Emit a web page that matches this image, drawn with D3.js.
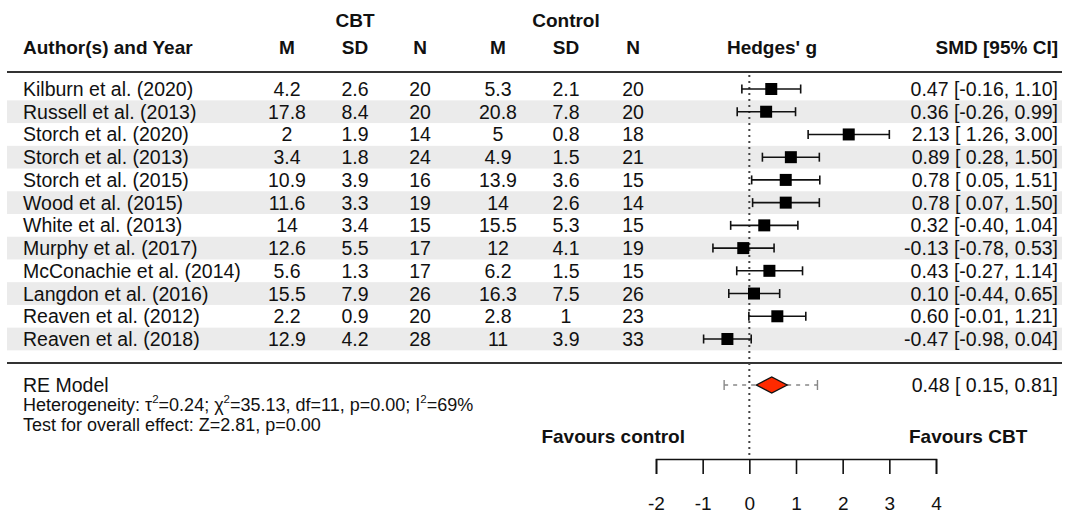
<!DOCTYPE html>
<html>
<head>
<meta charset="utf-8">
<title>forest</title>
<style>
  body { margin: 0; background: #fff; }
  svg text { font-family: "Liberation Sans", Arial, sans-serif; fill: #111; }
  .hdr { font-weight: bold; font-size: 19px; }
  .row { font-size: 19.5px; }
  .small { font-size: 18px; }
</style>
<script src="https://d3js.org/d3.v7.min.js"></script>
</head>
<body>
<svg id="chart" width="1066" height="514"></svg>
<script>
const studies = ["Kilburn et al. (2020)", "Russell et al. (2013)", "Storch et al. (2020)", "Storch et al. (2013)",
  "Storch et al. (2015)", "Wood et al. (2015)", "White et al. (2013)", "Murphy et al. (2017)",
  "McConachie et al. (2014)", "Langdon et al. (2016)", "Reaven et al. (2012)", "Reaven et al. (2018)"];
const cbtM = [4.2, 17.8, 2, 3.4, 10.9, 11.6, 14, 12.6, 5.6, 15.5, 2.2, 12.9];
const cbtSD = [2.6, 8.4, 1.9, 1.8, 3.9, 3.3, 3.4, 5.5, 1.3, 7.9, 0.9, 4.2];
const cbtN = [20, 20, 14, 24, 16, 19, 15, 17, 17, 26, 20, 28];
const ctlM = [5.3, 20.8, 5, 4.9, 13.9, 14, 15.5, 12, 6.2, 16.3, 2.8, 11];
const ctlSD = [2.1, 7.8, 0.8, 1.5, 3.6, 2.6, 5.3, 4.1, 1.5, 7.5, 1, 3.9];
const ctlN = [20, 20, 18, 21, 15, 14, 15, 19, 15, 26, 23, 33];
const smd = [0.47, 0.36, 2.13, 0.89, 0.78, 0.78, 0.32, -0.13, 0.43, 0.10, 0.60, -0.47];
const ciLo = [-0.16, -0.26, 1.26, 0.28, 0.05, 0.07, -0.40, -0.78, -0.27, -0.44, -0.01, -0.98];
const ciHi = [1.10, 0.99, 3.00, 1.50, 1.51, 1.50, 1.04, 0.53, 1.14, 0.65, 1.21, 0.04];

// random effects summary and prediction interval
const reEst = [0.48];
const reCI = [0.15, 0.81];
const rePI = [-0.54, 1.46];

const xTicks = [-2, -1, 0, 1, 2, 3, 4];

const svg = d3.select('#chart');
const x = d3.scaleLinear().domain([-2, 4]).range([656, 936]);
const y = d3.scalePoint().domain(studies).range([89, 339]);
const step = y.step();
const yRE = 385;

const cols = [
  {vals: cbtM, x: 287}, {vals: cbtSD, x: 355}, {vals: cbtN, x: 420},
  {vals: ctlM, x: 498}, {vals: ctlSD, x: 566}, {vals: ctlN, x: 633}
];

// stripes
svg.append('g').selectAll('rect')
  .data(studies.filter((d, i) => i % 2 == 1))
  .join('rect')
  .attr('x', 7).attr('width', 1055)
  .attr('y', d => y(d) - step / 2).attr('height', step)
  .attr('fill', '#ebebeb');

// header
const hdr = svg.append('g').attr('class', 'hdr');
hdr.append('text').attr('x', 23).attr('y', 47).attr('dominant-baseline', 'central').text('Author(s) and Year');
hdr.append('text').attr('x', cols[1].x).attr('y', 20).attr('text-anchor', 'middle').attr('dominant-baseline', 'central').text('CBT');
hdr.append('text').attr('x', cols[4].x).attr('y', 20).attr('text-anchor', 'middle').attr('dominant-baseline', 'central').text('Control');
['M', 'SD', 'N', 'M', 'SD', 'N'].forEach((t, i) => {
  hdr.append('text').attr('x', cols[i].x).attr('y', 47).attr('text-anchor', 'middle').attr('dominant-baseline', 'central').text(t);
});
hdr.append('text').attr('x', 772).attr('y', 47).attr('text-anchor', 'middle').attr('dominant-baseline', 'central').text("Hedges' g");
hdr.append('text').attr('x', 1058).attr('y', 47).attr('text-anchor', 'end').attr('dominant-baseline', 'central').text('SMD [95% CI]');

// rules
[72, 363].forEach(yy => {
  svg.append('line').attr('x1', 7).attr('x2', 1062).attr('y1', yy).attr('y2', yy)
    .attr('stroke', '#333').attr('stroke-width', 2.2);
});

// zero line
svg.append('line').attr('x1', x(0)).attr('x2', x(0)).attr('y1', 75).attr('y2', 459)
  .attr('stroke', '#444').attr('stroke-width', 2).attr('stroke-dasharray', '2,4');

// study rows text
const rows = svg.append('g').attr('class', 'row');
rows.selectAll('text.name').data(studies).join('text').attr('class', 'name')
  .attr('x', 23).attr('y', d => y(d)).attr('dominant-baseline', 'central').text(d => d);
cols.forEach(c => {
  rows.selectAll(null).data(c.vals).join('text')
    .attr('x', c.x).attr('y', (d, i) => y(studies[i]))
    .attr('text-anchor', 'middle').attr('dominant-baseline', 'central').text(d => String(d));
});
const fmt = v => (v >= 0 ? ' ' : '') + v.toFixed(2);
rows.selectAll('text.smd').data(studies).join('text').attr('class', 'smd')
  .attr('x', 1058).attr('y', d => y(d)).attr('text-anchor', 'end').attr('dominant-baseline', 'central')
  .style('white-space', 'pre')
  .text((d, i) => smd[i].toFixed(2) + ' [' + fmt(ciLo[i]) + ', ' + ciHi[i].toFixed(2) + ']');

// CIs and squares
const ci = svg.append('g').attr('stroke', '#111').attr('stroke-width', 1.6);
studies.forEach((s, i) => {
  const yy = y(s);
  ci.append('line').attr('x1', x(ciLo[i])).attr('x2', x(ciHi[i])).attr('y1', yy).attr('y2', yy);
  ci.append('line').attr('x1', x(ciLo[i])).attr('x2', x(ciLo[i])).attr('y1', yy - 4.5).attr('y2', yy + 4.5);
  ci.append('line').attr('x1', x(ciHi[i])).attr('x2', x(ciHi[i])).attr('y1', yy - 4.5).attr('y2', yy + 4.5);
});
svg.append('g').selectAll('rect').data(studies).join('rect')
  .attr('x', (d, i) => x(smd[i]) - 6).attr('y', d => y(d) - 6)
  .attr('width', 12).attr('height', 12).attr('fill', '#000');

// prediction interval
const pi = svg.append('g').attr('stroke', '#888').attr('stroke-width', 1.4);
pi.append('line').attr('x1', x(rePI[0])).attr('x2', x(rePI[1])).attr('y1', yRE).attr('y2', yRE).attr('stroke-dasharray', '4,5');
rePI.forEach(v => pi.append('line').attr('x1', x(v)).attr('x2', x(v)).attr('y1', yRE - 5).attr('y2', yRE + 5));

// diamond
svg.append('path')
  .attr('d', d3.line()([[x(reCI[0]), yRE], [x(reEst[0]), yRE - 8], [x(reCI[1]), yRE], [x(reEst[0]), yRE + 8]]) + 'Z')
  .attr('fill', '#ff2a00').attr('stroke', '#111').attr('stroke-width', 1.4);

// summary text
rows.append('text').attr('x', 23).attr('y', yRE).attr('dominant-baseline', 'central').text('RE Model');
rows.append('text').attr('x', 1058).attr('y', yRE).attr('text-anchor', 'end').attr('dominant-baseline', 'central')
  .style('white-space', 'pre')
  .text(reEst[0].toFixed(2) + ' [' + fmt(reCI[0]) + ', ' + reCI[1].toFixed(2) + ']');

const het = svg.append('text').attr('class', 'small').attr('x', 23).attr('y', 405).attr('dominant-baseline', 'central');
const parts = [['Heterogeneity: τ'], ['2', 1], ['=0.24; χ'], ['2', 1], ['=35.13, df=11, p=0.00; I'], ['2', 1], ['=69%']];
parts.forEach((p, k) => {
  const t = het.append('tspan').text(p[0]);
  if (p[1]) t.attr('font-size', 11.5).attr('dy', -6);
  else if (k > 0) t.attr('dy', 6);
});
svg.append('text').attr('class', 'small').attr('x', 23).attr('y', 425).attr('dominant-baseline', 'central')
  .text('Test for overall effect: Z=2.81, p=0.00');

// favours labels
svg.append('text').attr('class', 'hdr').attr('x', 685).attr('y', 436).attr('text-anchor', 'end').attr('dominant-baseline', 'central').text('Favours control');
svg.append('text').attr('class', 'hdr').attr('x', 909).attr('y', 436).attr('dominant-baseline', 'central').text('Favours CBT');

// axis
const ax = svg.append('g').attr('transform', 'translate(0,459)')
  .call(d3.axisBottom(x).tickValues(xTicks).tickSize(15).tickPadding(23).tickFormat(d => String(d)));
ax.selectAll('path, line').attr('stroke', '#111').attr('stroke-width', 1.6);
ax.selectAll('text').attr('font-size', 19).attr('font-family', '"Liberation Sans", Arial, sans-serif').attr('fill', '#111');
</script>
</body>
</html>
